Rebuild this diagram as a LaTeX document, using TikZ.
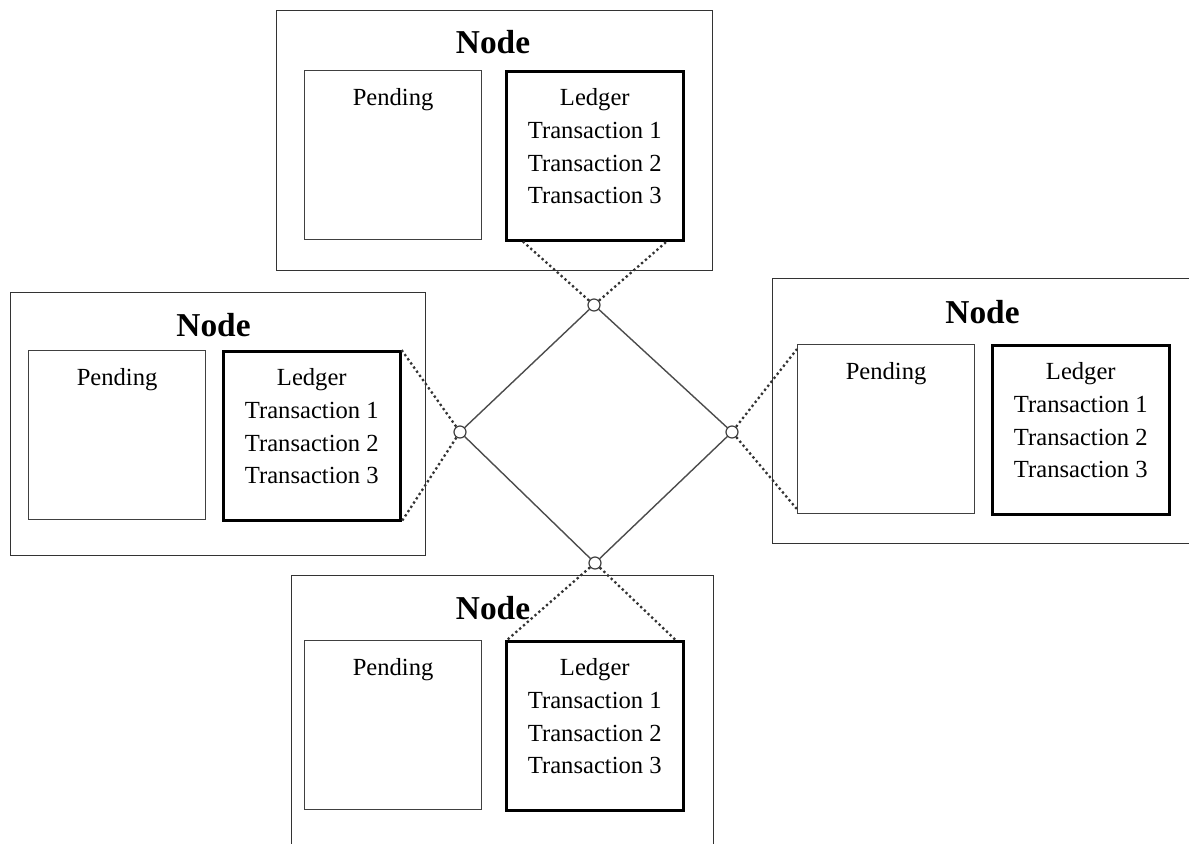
\documentclass[tikz,border=0pt]{standalone}
\usepackage{fontspec}
\setmainfont{Liberation Serif}
\usetikzlibrary{positioning,calc}

\tikzset{
  peer/.style={draw=black!80, line width=0.7pt, anchor=north west, inner sep=0pt},
  pendbox/.style={draw=black!75, line width=0.7pt, anchor=north west,
    minimum width=3.54cm, minimum height=3.38cm, inner sep=0pt},
  ledgerbox/.style={pendbox, draw=black, line width=1.5pt},
  nodetitle/.style={font=\bfseries\fontsize{19}{22}\selectfont, inner sep=0pt},
  boxtext/.style={font=\fontsize{14}{18.7}\selectfont, align=center, anchor=north, inner sep=0pt},
  port/.style={circle, draw=black!75, line width=0.7pt, minimum size=0.24cm, inner sep=0pt},
  wire/.style={draw=black!70, line width=0.8pt},
  link/.style={draw=black!80, line width=1.3pt, dash pattern=on 1.3pt off 1.6pt},
}

\begin{document}
\begin{tikzpicture}[x=0.02cm, y=-0.02cm]
    \useasboundingbox (0,0) rectangle (1189,843);
    \clip (0,0) rectangle (1189,843);
    % four peers: outer frame, pending pool and ledger
    \foreach \n/\ox/\oy/\ow/\oh/\px/\lx/\iy/\ty in {t/276/10/436/260/304/505/70/42,
        l/10/292/415/263/28/222/350/325, r/772/278/440/265/797/991/344/312,
        b/291/575/422/290/304/505/640/608} {
        \pgfmathsetmacro{\tx}{(\px + \lx + 177)/2}
        \node[peer, minimum width=\ow*0.02cm, minimum height=\oh*0.02cm] (\n-peer) at (\ox,\oy) {};
        \node[pendbox] (\n-pend) at (\px,\iy) {};
        \node[ledgerbox] (\n-ledger) at (\lx,\iy) {};
        \node[nodetitle] (\n-title) at (\tx,\ty) {Node};
        \node[boxtext] (\n-pendtext) at ([yshift=-0.36cm]\n-pend.north) {Pending};
        \node[boxtext] (\n-ledgertext) at ([yshift=-0.36cm]\n-ledger.north)
            {Ledger\\Transaction 1\\Transaction 2\\Transaction 3};
    }
    % network ports
    \node[port] (p-t) at (594,305) {};
    \node[port] (p-l) at (460,432) {};
    \node[port] (p-r) at (732,432) {};
    \node[port] (p-b) at (595,563) {};
    % ring between the ports
    \draw[wire] (p-t) -- (p-l) -- (p-b) -- (p-r) -- (p-t);
    % dotted attachments to the peers
    \draw[link] (p-t) -- ([xshift=0.36cm]t-ledger.south west);
    \draw[link] (p-t) -- ([xshift=-0.36cm]t-ledger.south east);
    \draw[link] (p-l) -- (l-ledger.north east);
    \draw[link] (p-l) -- (l-ledger.south east);
    \draw[link] (p-r) -- ([yshift=-0.1cm]r-pend.north west);
    \draw[link] (p-r) -- ([yshift=0.1cm]r-pend.south west);
    \draw[link] (p-b) -- ([xshift=0.04cm]b-ledger.north west);
    \draw[link] (p-b) -- ([xshift=-0.18cm]b-ledger.north east);
\end{tikzpicture}
\end{document}
